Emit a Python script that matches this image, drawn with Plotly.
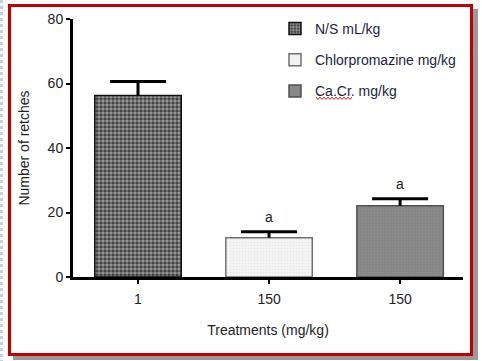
import plotly.graph_objects as go

# ---- data ----
groups = ["N/S mL/kg", "Chlorpromazine mg/kg", "Ca.Cr. mg/kg"]
dose_labels = ["1", "150", "150"]
means = [56.3, 12.2, 22.1]
sems = [4.3, 1.8, 2.2]
sig = ["", "a", "a"]

W, H = 482, 361
ML, MR, MT, MB = 73, 19, 19, 84
PW, PH = W - ML - MR, H - MT - MB

def px(x):
    return (x - ML) / PW

def py(y):
    return (H - MB - y) / PH

FONT = "Liberation Sans, Arial, sans-serif"

styles = [
    dict(color="#333333", pattern=dict(shape=".", fgcolor="#eeeeee", bgcolor="#3a3a3a", size=4, solidity=0.6, fillmode="overlay"), line=dict(color="#111", width=1.5)),
    dict(color="#f0f0f0", pattern=dict(shape=".", fgcolor="#d8d8d8", bgcolor="#f4f4f4", size=3, solidity=0.2), line=dict(color="#707070", width=1.5)),
    dict(color="#8a8a8a", pattern=dict(shape=".", fgcolor="#9a9a9a", bgcolor="#858585", size=3, solidity=0.3), line=dict(color="#505050", width=1.5)),
]

fig = go.Figure()
xs = list(range(len(groups)))
for i, g in enumerate(groups):
    fig.add_trace(go.Bar(
        x=[xs[i]], y=[means[i]], name=g, width=0.66,
        legendgroup=g,
        marker=dict(color=styles[i]["color"], pattern=styles[i]["pattern"], line=styles[i]["line"]),
        error_y=dict(type="data", array=[sems[i]], arrayminus=[0], symmetric=False,
                     thickness=3, width=0, color="black"),
    ))

# error-bar caps
fig.add_trace(go.Scatter(
    x=xs, y=[m + s for m, s in zip(means, sems)], mode="markers", showlegend=False,
    marker=dict(symbol="line-ew", size=40, line=dict(width=3, color="black")),
    hoverinfo="skip",
))

for i in xs:
    if sig[i]:
        fig.add_annotation(x=i, y=means[i] + sems[i], text=sig[i], showarrow=False,
                           yanchor="bottom", yshift=5, font=dict(size=14, color="#222", family=FONT))

shapes = []
# shadow
shapes.append(dict(type="rect", xref="paper", yref="paper", x0=px(473), x1=px(478), y0=py(360), y1=py(9),
                   fillcolor="#9a9a9a", line=dict(width=0), layer="below"))
shapes.append(dict(type="rect", xref="paper", yref="paper", x0=px(13), x1=px(478), y0=py(360), y1=py(356),
                   fillcolor="#9a9a9a", line=dict(width=0), layer="below"))
# red border
shapes.append(dict(type="rect", xref="paper", yref="paper", x0=px(9.5), x1=px(471.5), y0=py(354.5), y1=py(5.5),
                   line=dict(color="#c00000", width=3), layer="below"))
# blue dotted margin line
shapes.append(dict(type="line", xref="paper", yref="paper", x0=px(1.5), x1=px(1.5), y0=py(0), y1=py(361),
                   line=dict(color="#b8d4f0", width=3, dash="dot")))
# spell-check wavy underline
zz = []
x0 = 316
k = 0
while x0 <= 353:
    yy = 97 if k % 2 == 0 else 99.5
    zz.append((px(x0), py(yy)))
    x0 += 2
    k += 1
path = "M " + " L ".join(f"{a:.5f},{b:.5f}" for a, b in zz)
shapes.append(dict(type="path", xref="paper", yref="paper", path=path, line=dict(color="#e02020", width=1)))

fig.update_layout(
    width=W, height=H,
    margin=dict(l=ML, r=MR, t=MT, b=MB, autoexpand=False),
    paper_bgcolor="white", plot_bgcolor="white",
    barmode="overlay",
    font=dict(family=FONT, size=14, color="#222"),
    shapes=shapes,
    showlegend=True,
    legend=dict(x=px(275), y=py(13), xanchor="left", yanchor="top",
                font=dict(size=14, color="#1e1e3c", family=FONT),
                tracegroupgap=10, bgcolor="rgba(0,0,0,0)"),
    xaxis=dict(range=[-0.496, 2.48], tickmode="array", tickvals=xs, ticktext=dose_labels,
               automargin=False,
               showline=True, linecolor="black", linewidth=3, ticks="outside", ticklen=4,
               tickwidth=2, tickcolor="black", showgrid=False, zeroline=False,
               ticklabelstandoff=3,
               title=dict(text="Treatments (mg/kg)", standoff=20, font=dict(size=14)),
               tickfont=dict(size=14, color="#222")),
    yaxis=dict(range=[0, 80], tickvals=[0, 20, 40, 60, 80], showline=True, linecolor="black",
               automargin=False,
               linewidth=3, ticks="outside", ticklen=4, tickwidth=2, tickcolor="black",
               showgrid=False, zeroline=False,
               title=dict(text="Number of retches", standoff=15, font=dict(size=14)),
               tickfont=dict(size=14, color="#222")),
)

fig.write_html("out.html", config={"displayModeBar": False},
               post_script="document.body.style.margin='0';document.body.style.overflow='hidden';")
